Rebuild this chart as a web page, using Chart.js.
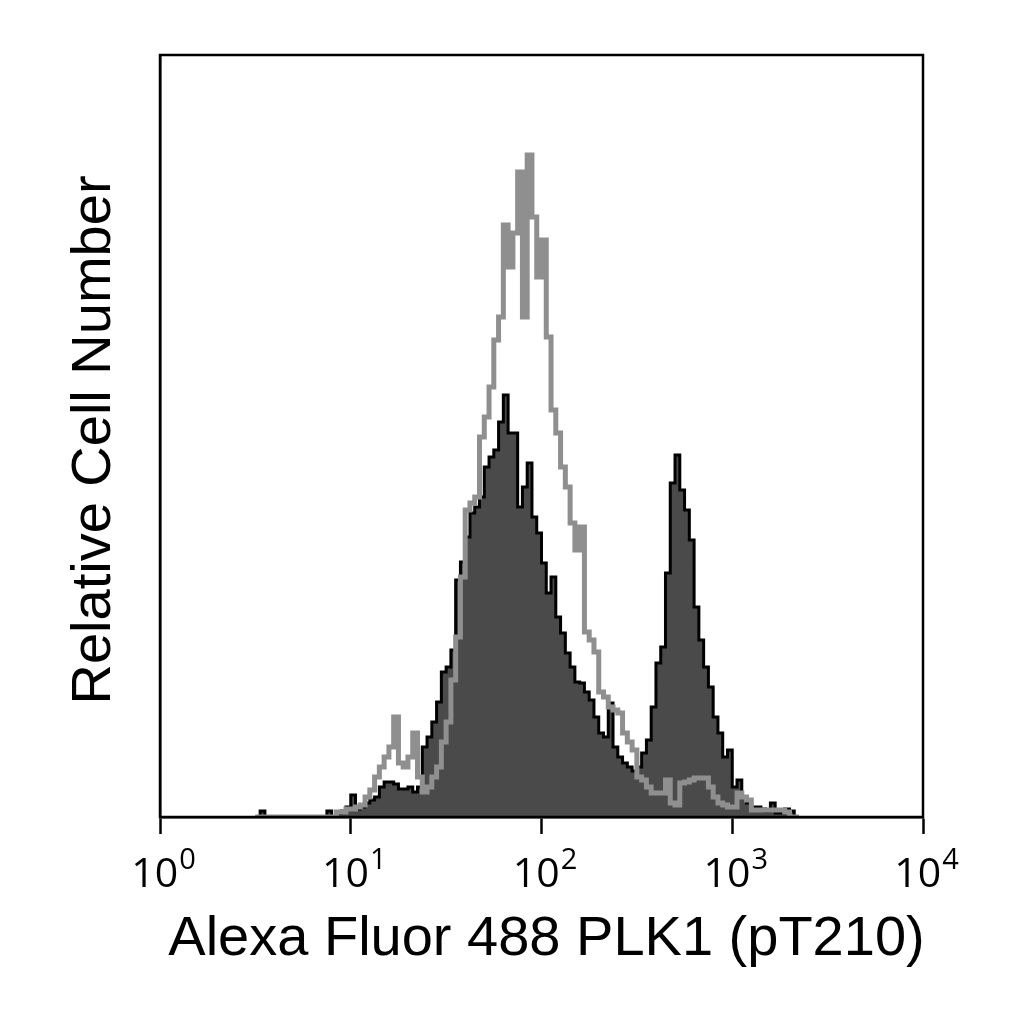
<!DOCTYPE html>
<html>
<head>
<meta charset="utf-8">
<script src="https://cdn.jsdelivr.net/npm/chart.js@4.4.1/dist/chart.umd.min.js"></script>
<style>
  body { margin: 0; background: #fff; }
  #wrap { width: 1024px; height: 1024px; }
</style>
</head>
<body>
<div id="wrap"><canvas id="histo" width="1024" height="1024"></canvas></div>
<script>
// histogram bins on log10 axis: first bin edge and bin width (decades)
const binStart = 0.5;
const binWidth = 0.025;

// stained sample (filled dark histogram)
const stainedCounts = [
  0, 6, 0, 0, 0, 0, 0, 0, 0, 0,
  0, 0, 0, 0, 0, 6, 0, 4, 6, 10,
  22, 8, 10, 14, 17, 20, 30, 35, 35, 33,
  28, 28, 30, 25, 30, 70, 80, 95, 115, 145,
  150, 167, 237, 255, 280, 304, 310, 320, 350, 360,
  367, 395, 422, 384, 384, 310, 330, 354, 300, 284,
  254, 224, 240, 200, 184, 164, 150, 135, 134, 125,
  117, 100, 84, 80, 114, 70, 60, 54, 50, 46,
  50, 64, 77, 110, 154, 170, 244, 334, 362, 327,
  307, 277, 210, 177, 150, 130, 100, 84, 60, 67,
  30, 37, 20, 14, 10, 10, 8, 6, 14, 4,
  4, 8, 6, 0
];

// control sample (gray outline histogram)
const controlCounts = [
  0, 0, 0, 0, 0, 0, 0, 0, 0, 0,
  0, 0, 0, 0, 0, 0, 0, 5, 5, 8,
  8, 10, 12, 20, 27, 40, 50, 60, 70, 100,
  54, 50, 60, 84, 40, 25, 30, 40, 50, 75,
  95, 137, 180, 240, 307, 314, 320, 380, 400, 430,
  477, 500, 592, 550, 584, 645, 500, 662, 600, 540,
  577, 480, 407, 384, 350, 330, 294, 267, 290, 185,
  177, 165, 125, 120, 110, 107, 104, 84, 75, 67,
  40, 37, 30, 24, 24, 24, 37, 14, 12, 34,
  35, 37, 39, 39, 39, 30, 20, 14, 12, 10,
  10, 24, 20, 17, 7, 7, 7, 7, 7, 7,
  7, 5, 0, 0
];

// x axis: decades 10^0 .. 10^4
const tickValues = [0, 1, 2, 3, 4];
const tickBase = '10';
const tickExponents = ['0', '1', '2', '3', '4'];

const xTitle = 'Alexa Fluor 488 PLK1 (pT210)';
const yTitle = 'Relative Cell Number';
const yMax = 762;

// turn bin counts into step points at the bin edges
function toSteps(counts) {
    const pts = counts.map((c, i) => ({ x: binStart + i * binWidth, y: c }));
    pts.push({ x: binStart + counts.length * binWidth, y: 0 });
    return pts;
}

// frame, superscript tick labels and axis titles
const decorPlugin = {
    id: 'decor',
    afterDraw(chart) {
        const ctx = chart.ctx;
        const area = chart.chartArea;
        const xs = chart.scales.x;
        ctx.save();
        ctx.strokeStyle = '#000';
        ctx.lineWidth = 2.5;
        ctx.strokeRect(area.left, area.top, area.right - area.left, area.bottom - area.top);

        ctx.fillStyle = '#000';
        ctx.textAlign = 'left';
        ctx.textBaseline = 'alphabetic';
        tickValues.forEach((v, i) => {
            const px = xs.getPixelForValue(v);
            ctx.font = '41px "Open Sans"';
            const bw = ctx.measureText(tickBase).width;
            ctx.font = '29px "Open Sans"';
            const ew = ctx.measureText(tickExponents[i]).width;
            const left = px - (bw + ew) / 2 + 3;
            ctx.font = '41px "Open Sans"';
            ctx.fillText(tickBase, left, 887);
            ctx.font = '29px "Open Sans"';
            ctx.fillText(tickExponents[i], left + bw + 1, 869);
        });

        ctx.font = '56px "Liberation Sans"';
        ctx.textAlign = 'center';
        ctx.fillText(xTitle, (area.left + area.right) / 2 + 5, 955);

        ctx.translate(110, (area.top + area.bottom) / 2 + 4);
        ctx.rotate(-Math.PI / 2);
        ctx.fillText(yTitle, 0, 0);
        ctx.restore();
    }
};

new Chart(document.getElementById('histo'), {
    type: 'line',
    data: {
        datasets: [
            {
                label: 'control',
                data: toSteps(controlCounts),
                stepped: 'before',
                borderColor: '#8f8f8f',
                borderWidth: 5,
                fill: false,
                pointRadius: 0,
                order: 0
            },
            {
                label: 'PLK1 (pT210)',
                data: toSteps(stainedCounts),
                stepped: 'before',
                borderColor: '#000',
                borderWidth: 3,
                backgroundColor: '#4a4a4a',
                fill: 'origin',
                pointRadius: 0,
                order: 1
            }
        ]
    },
    options: {
        responsive: false,
        animation: false,
        devicePixelRatio: 1,
        layout: { padding: { left: 0, right: 101, top: 55, bottom: 0 } },
        plugins: {
            legend: { display: false },
            tooltip: { enabled: false }
        },
        scales: {
            x: {
                type: 'linear',
                min: 0,
                max: 4,
                afterFit: s => { s.height = 207; },
                afterBuildTicks: s => { s.ticks = tickValues.map(v => ({ value: v })); },
                ticks: { display: false },
                grid: {
                    display: true,
                    drawOnChartArea: false,
                    drawTicks: true,
                    tickLength: 17,
                    tickWidth: 2.5,
                    tickColor: '#000'
                },
                border: { display: true, color: '#000', width: 2.5 }
            },
            y: {
                min: 0,
                max: yMax,
                afterFit: s => { s.width = 160; },
                ticks: { display: false },
                grid: { display: false },
                border: { display: true, color: '#000', width: 2.5 }
            }
        }
    },
    plugins: [decorPlugin]
});
</script>
</body>
</html>
